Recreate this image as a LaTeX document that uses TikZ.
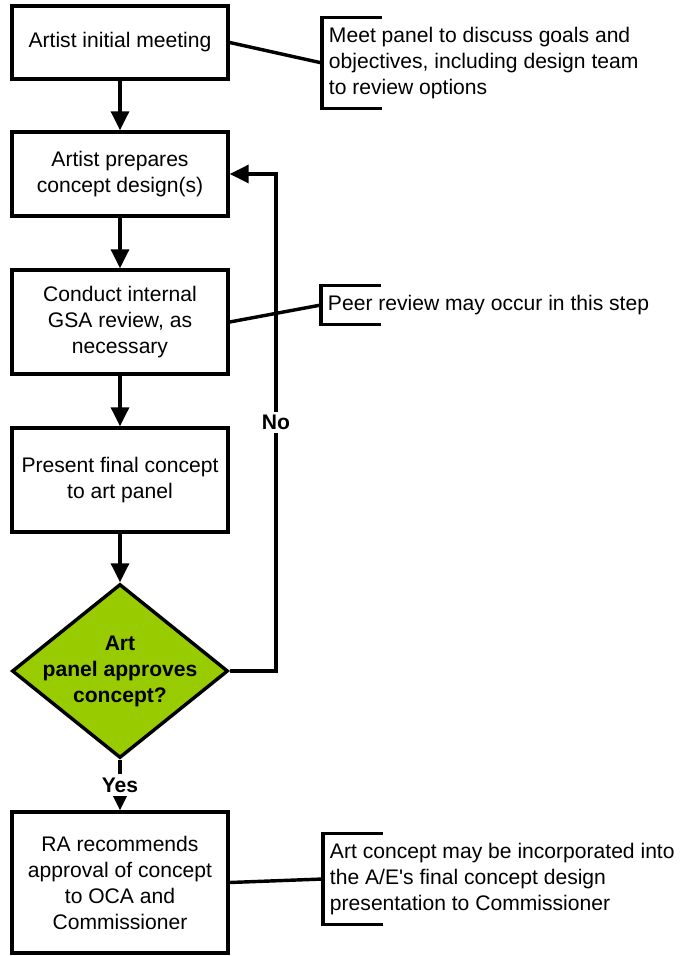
\documentclass[tikz,border=0pt]{standalone}
\usepackage{fontspec}
\setmainfont{Liberation Sans}
\usetikzlibrary{arrows.meta,shapes.geometric}
\definecolor{panelgreen}{HTML}{99CC00}

\begin{document}
\begin{tikzpicture}[every node/.style={font=\fontsize{12}{14.8}\selectfont}, >={Triangle[length=3.8mm, width=3.6mm]}, line width=1.95pt, stepbox/.style={draw, minimum width=4.32cm, align=center, inner sep=0pt}, decision/.style={draw, diamond, fill=panelgreen, minimum width=4.32cm, minimum height=3.48cm, inner sep=0pt}, note/.style={anchor=west, align=left, inner xsep=3pt, inner ysep=0pt}, lbl/.style={fill=white, font=\fontsize{12}{14.8}\selectfont\bfseries, inner sep=2pt}]
	\useasboundingbox (0,0) rectangle (13.62,-19.12);
	\node[stepbox, minimum height=1.46cm] (meet) at (2.4,-0.85) {Artist initial meeting};
	\node[stepbox, minimum height=1.68cm] (prep) at (2.4,-3.48) {Artist prepares\\concept design(s)};
	\node[stepbox, minimum height=2.08cm] (gsa) at (2.4,-6.44) {Conduct internal\\GSA review, as\\necessary};
	\node[stepbox, minimum height=2.08cm] (present) at (2.4,-9.6) {Present final concept\\to art panel};
	\node[decision] (approve) at (2.4,-13.42) {};
	\node[font=\fontsize{12}{14.8}\selectfont\bfseries, align=center] (approvetext) at (approve) {Art\\panel approves\\concept?};
	\node[stepbox, minimum height=2.82cm] (recommend) at (2.4,-17.65) {RA recommends\\approval of concept\\to OCA and\\Commissioner};
	\node[note, minimum height=1.76cm] (goals) at (6.44,-1.26) {Meet panel to discuss goals and\\objectives, including design team\\to review options};
	\node[note, minimum height=0.72cm] (peer) at (6.42,-6.1) {Peer review may occur in this step};
	\node[note, minimum height=1.76cm] (incorp) at (6.46,-17.58) {Art concept may be incorporated into\\the A/E\textquotesingle s final concept design\\presentation to Commissioner};
	\foreach \n in {goals,peer,incorp}
		\draw ([xshift=1.2cm]\n.north west) -- (\n.north west) -- (\n.south west) -- ([xshift=1.2cm]\n.south west);
	\draw (meet.east) -- (goals.west);
	\draw (gsa.east) -- (peer.west);
	\draw (recommend.east) -- (incorp.west);
	\draw[->] (meet) -- (prep);
	\draw[->] (prep) -- (gsa);
	\draw[->] (gsa) -- (present);
	\draw[->] (present) -- (approve);
	\draw[->] (approve) -- node[lbl] (yes) {Yes} (recommend);
	\coordinate (back) at (5.52,-3.48);
	\draw[->] (approve.east) -| node[lbl, pos=0.75] (no) {No} (back) -- (prep.east);
\end{tikzpicture}
\end{document}
